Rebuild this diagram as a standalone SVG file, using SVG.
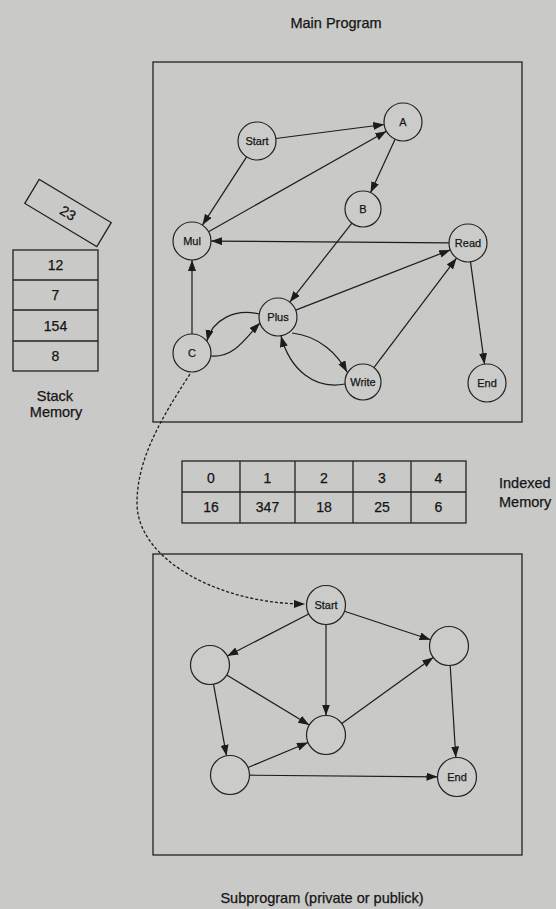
<svg xmlns="http://www.w3.org/2000/svg" width="556" height="909" viewBox="0 0 556 909">
<defs>
<marker id="ah" markerUnits="userSpaceOnUse" markerWidth="12" markerHeight="9" refX="11" refY="4" orient="auto">
<path d="M0,0 L11,4 L0,8 z" fill="#1c1c1c"/>
</marker>
<style>
.bg{fill:#c9c9c7}
.box{fill:none;stroke:#222;stroke-width:1.3}
.nd{fill:#cbcbc9;stroke:#222;stroke-width:1.2}
.e{fill:none;stroke:#1c1c1c;stroke-width:1.2;marker-end:url(#ah)}
.dash{fill:none;stroke:#1c1c1c;stroke-width:1.3;stroke-dasharray:3,2;marker-end:url(#ah)}
.cell{fill:none;stroke:#222;stroke-width:1.3}
.nl{font-family:"Liberation Sans",Arial,sans-serif;font-size:11px;fill:#151515;stroke:#151515;stroke-width:0.25;text-anchor:middle}
.lb{font-family:"Liberation Sans",Arial,sans-serif;font-size:14.5px;fill:#151515;stroke:#151515;stroke-width:0.25}
.num{font-family:"Liberation Sans",Arial,sans-serif;font-size:14px;fill:#151515;stroke:#151515;stroke-width:0.25;text-anchor:middle}
</style>
</defs>
<rect class="bg" x="0" y="0" width="556" height="909"/>

<text class="lb" x="336" y="28" text-anchor="middle">Main Program</text>
<rect id="main-program" class="box" x="153" y="62" width="369" height="360"/>

<g id="connectors">
<line class="e" x1="275.8" y1="138.5" x2="384.2" y2="124.5"/>
<line class="e" x1="246.6" y1="156.9" x2="202.4" y2="225.1"/>
<line class="e" x1="208.5" y1="231.7" x2="386.4" y2="131.3"/>
<line class="e" x1="395.1" y1="139.3" x2="370.5" y2="192.7"/>
<line class="e" x1="351.9" y1="223.1" x2="289.8" y2="302.1"/>
<line class="e" x1="449" y1="242.9" x2="211" y2="241.1"/>
<line class="e" x1="295.7" y1="310.1" x2="450.3" y2="249.9"/>
<line class="e" x1="373.9" y1="367.6" x2="456.5" y2="258.2"/>
<line class="e" x1="470.5" y1="261.8" x2="484.5" y2="364.2"/>
<line class="e" x1="192" y1="334" x2="192" y2="260"/>
<path class="e" d="M259,314 C235,308 212,320 207,341"/>
<path class="e" d="M211,356 C235,358 247,336 260,323"/>
<path class="e" d="M292,333 C320,336 338,355 347,372"/>
<path class="e" d="M345,384 C315,390 290,370 281,336"/>
<path class="dash" d="M190,374 C160,420 137,460 137,503 C137,560 220,604 305,604"/>
<line class="e" x1="308.7" y1="614" x2="227.3" y2="656"/>
<line class="e" x1="344.5" y1="611.2" x2="430.5" y2="639.8"/>
<line class="e" x1="326" y1="624.5" x2="326" y2="715.5"/>
<line class="e" x1="226.7" y1="675.1" x2="309.3" y2="724.9"/>
<line class="e" x1="213.5" y1="684.2" x2="226.5" y2="755.8"/>
<line class="e" x1="248" y1="767.5" x2="308" y2="742.5"/>
<line class="e" x1="341.8" y1="723.6" x2="433.2" y2="657.4"/>
<line class="e" x1="450.2" y1="665.5" x2="455.8" y2="757.5"/>
<line class="e" x1="249.5" y1="775.2" x2="437.5" y2="776.8"/>
</g>

<g id="n-start"><circle class="nd" cx="257" cy="141" r="19"/><text class="nl" x="257" y="145">Start</text></g>
<g id="n-a"><circle class="nd" cx="403" cy="122" r="19"/><text class="nl" x="403" y="126">A</text></g>
<g id="n-b"><circle class="nd" cx="363" cy="209" r="18"/><text class="nl" x="363" y="213">B</text></g>
<g id="n-mul"><circle class="nd" cx="192" cy="241" r="19"/><text class="nl" x="192" y="245">Mul</text></g>
<g id="n-read"><circle class="nd" cx="468" cy="243" r="19"/><text class="nl" x="468" y="247">Read</text></g>
<g id="n-plus"><circle class="nd" cx="278" cy="317" r="19"/><text class="nl" x="278" y="321">Plus</text></g>
<g id="n-c"><circle class="nd" cx="192" cy="353" r="19"/><text class="nl" x="192" y="357">C</text></g>
<g id="n-write"><circle class="nd" cx="363" cy="382" r="18"/><text class="nl" x="363" y="386">Write</text></g>
<g id="n-end"><circle class="nd" cx="487" cy="383" r="19"/><text class="nl" x="487" y="387">End</text></g>

<g id="stack-memory">
<g transform="rotate(31 68 213)">
<rect class="cell" x="26" y="199" width="84" height="28"/>
<text class="num" x="68" y="218">23</text>
</g>
<rect class="cell" x="13" y="250" width="85" height="121"/>
<line class="cell" x1="13" y1="280" x2="98" y2="280"/>
<line class="cell" x1="13" y1="310" x2="98" y2="310"/>
<line class="cell" x1="13" y1="341" x2="98" y2="341"/>
<text class="num" x="55.5" y="270">12</text>
<text class="num" x="55.5" y="300">7</text>
<text class="num" x="55.5" y="330.5">154</text>
<text class="num" x="55.5" y="361">8</text>
<text class="lb" x="55" y="401" text-anchor="middle">Stack</text>
<text class="lb" x="56" y="417" text-anchor="middle">Memory</text>
</g>

<g id="indexed-memory">
<rect class="cell" x="182" y="461" width="284" height="62"/>
<line class="cell" x1="182" y1="492" x2="466" y2="492"/>
<line class="cell" x1="240" y1="461" x2="240" y2="523"/>
<line class="cell" x1="295" y1="461" x2="295" y2="523"/>
<line class="cell" x1="353" y1="461" x2="353" y2="523"/>
<line class="cell" x1="411" y1="461" x2="411" y2="523"/>
<text class="num" x="211" y="483">0</text>
<text class="num" x="267.5" y="483">1</text>
<text class="num" x="324" y="483">2</text>
<text class="num" x="382" y="483">3</text>
<text class="num" x="438.5" y="483">4</text>
<text class="num" x="211" y="512">16</text>
<text class="num" x="267.5" y="512">347</text>
<text class="num" x="324" y="512">18</text>
<text class="num" x="382" y="512">25</text>
<text class="num" x="438.5" y="512">6</text>
<text class="lb" x="499" y="488">Indexed</text>
<text class="lb" x="499" y="507">Memory</text>
</g>

<rect id="subprogram" class="box" x="153" y="554" width="369" height="301"/>
<g id="s-start"><circle class="nd" cx="326" cy="605" r="19.5"/><text class="nl" x="326" y="609">Start</text></g>
<g id="s-left1"><circle class="nd" cx="210" cy="665" r="19.5"/></g>
<g id="s-right"><circle class="nd" cx="449" cy="646" r="19.5"/></g>
<g id="s-mid"><circle class="nd" cx="326" cy="735" r="19.5"/></g>
<g id="s-left2"><circle class="nd" cx="230" cy="775" r="19.5"/></g>
<g id="s-end"><circle class="nd" cx="457" cy="777" r="19.5"/><text class="nl" x="457" y="781">End</text></g>

<text class="lb" x="322" y="903" text-anchor="middle">Subprogram (private or publick)</text>
</svg>
